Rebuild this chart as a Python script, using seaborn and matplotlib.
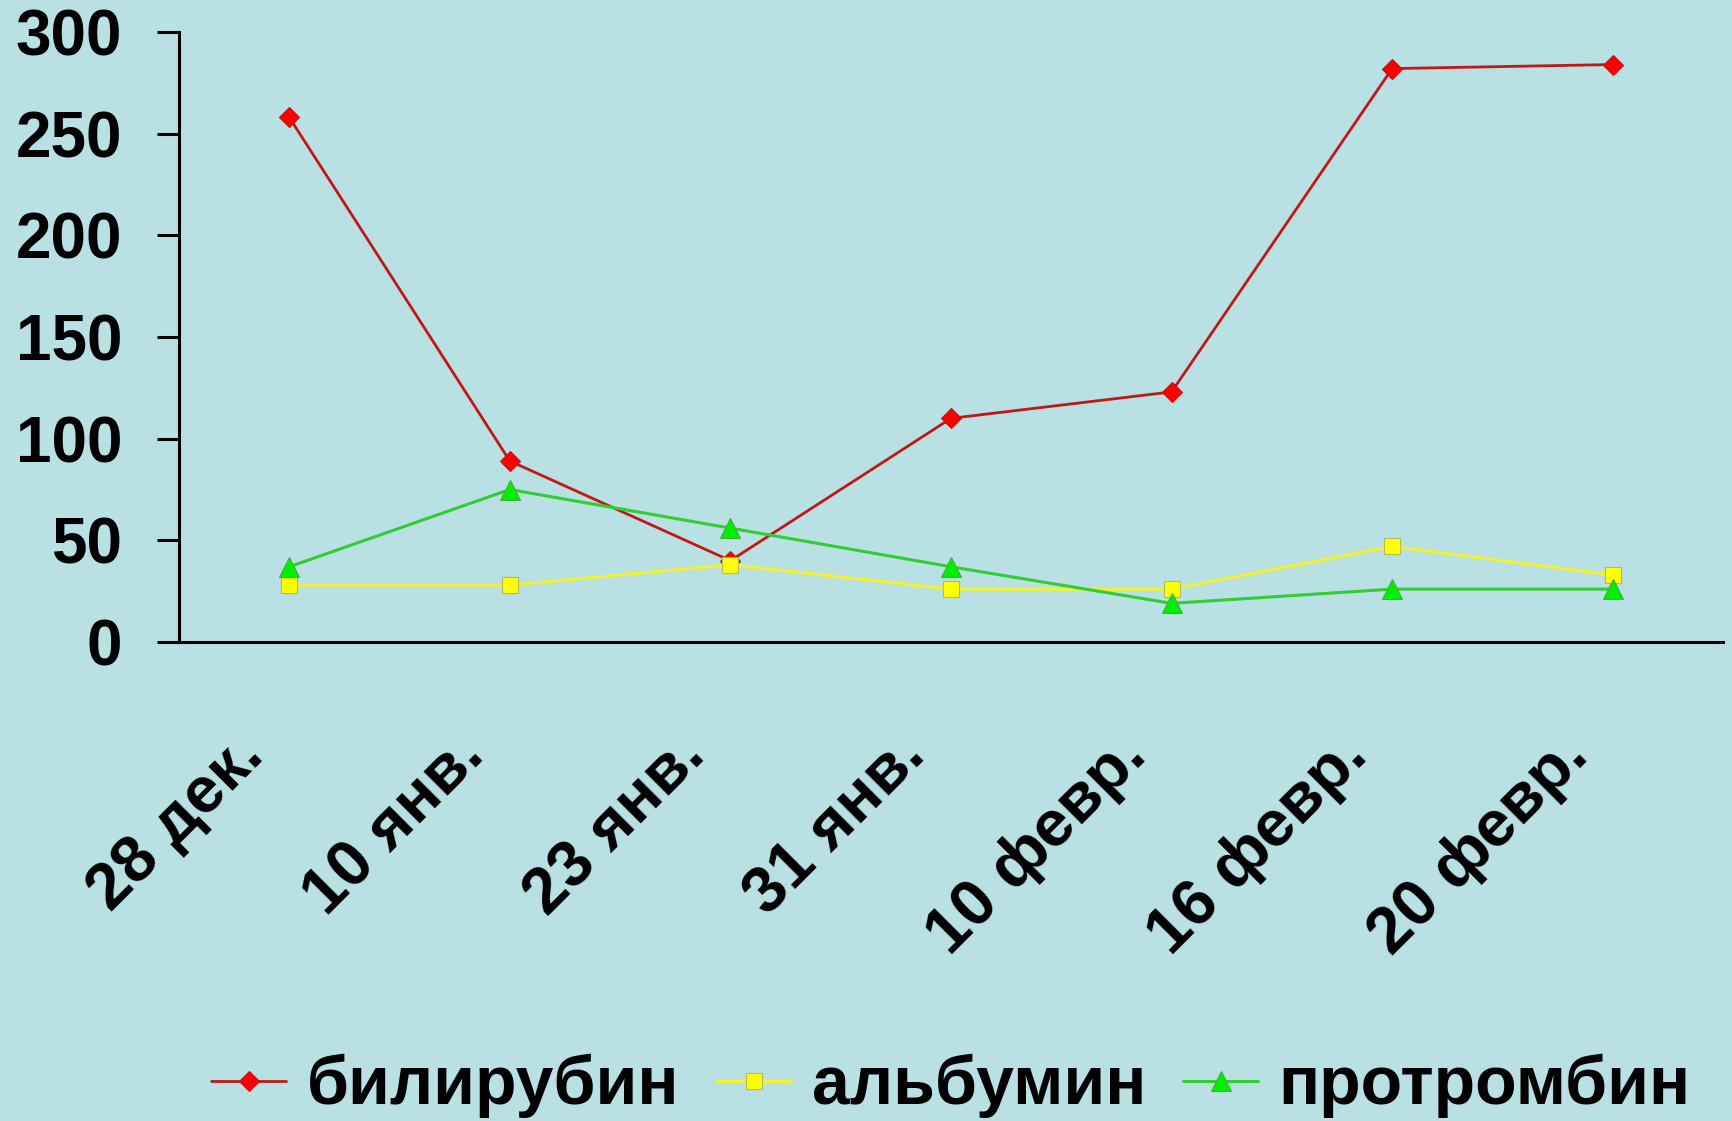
import matplotlib
matplotlib.use("Agg")
import matplotlib.pyplot as plt
from matplotlib.transforms import ScaledTranslation
import seaborn as sns
import pandas as pd

# Dates of the measurements
dates = ["28 дек.", "10 янв.", "23 янв.", "31 янв.", "10 февр.", "16 февр.", "20 февр."]

# Laboratory values per date
bilirubin = [258, 89, 40, 110, 123, 282, 284]
albumin = [28, 28, 38, 26, 26, 47, 33]
prothrombin = [37, 75, 56, 37, 19, 26, 26]

series_names = ["билирубин", "альбумин", "протромбин"]
y_ticks = [0, 50, 100, 150, 200, 250, 300]

BG = "#B9E0E3"

sns.set_theme(style="white")
plt.rcParams["font.family"] = ["Liberation Sans", "DejaVu Sans"]
plt.rcParams["font.weight"] = "bold"
plt.rcParams["text.color"] = "black"

fig = plt.figure(figsize=(17.32, 11.21), dpi=100, facecolor=BG)
ax = fig.add_axes([179 / 1732, 1 - 642 / 1121, (1723 - 179) / 1732, (642 - 32) / 1121])
ax.set_facecolor(BG)

styles = [
    dict(values=bilirubin, color="#C01818", marker="D", ms=10, mfc="#FF0000", mec="#CC1010", lw=2.0),
    dict(values=albumin, color="#F2F22E", marker="s", ms=12, mfc="#FFFF00", mec="#B8B860", lw=2.2),
    dict(values=prothrombin, color="#33CC33", marker="^", ms=14, mfc="#00EE00", mec="#40B040", lw=2.2),
]

for name, st in zip(series_names, styles):
    df = pd.DataFrame({"date": dates, "value": st["values"]})
    sns.lineplot(
        data=df, x="date", y="value", ax=ax, sort=False,
        color=st["color"], linewidth=st["lw"], marker=st["marker"],
        markersize=st["ms"], markerfacecolor=st["mfc"], markeredgecolor=st["mec"],
        markeredgewidth=0.8, label=name,
    )

ax.set_xlim(-0.5, len(dates) - 0.5)
ax.set_ylim(0, 300)
ax.set_xlabel("")
ax.set_ylabel("")

for side in ["top", "right"]:
    ax.spines[side].set_visible(False)
for side in ["left", "bottom"]:
    ax.spines[side].set_color("black")
    ax.spines[side].set_linewidth(2.2)

ax.set_yticks(y_ticks)
ax.set_yticklabels([str(v) for v in y_ticks], fontsize=46, fontweight="bold", color="black")
ax.tick_params(axis="y", direction="out", length=16, width=2.2, pad=25, colors="black", left=True)

ax.set_xticks(range(len(dates)))
ax.set_xticklabels(dates, fontsize=47, fontweight="bold", rotation=45, color="black",
                   ha="right", va="center", rotation_mode="anchor")
ax.tick_params(axis="x", length=0, pad=0, colors="black")
shift = ScaledTranslation(-0.35, -1.04, fig.dpi_scale_trans)
for lbl in ax.get_xticklabels():
    lbl.set_transform(lbl.get_transform() + shift)

handles, labels = ax.get_legend_handles_labels()
if ax.get_legend() is not None:
    ax.get_legend().remove()
leg = fig.legend(handles, labels, loc="center", bbox_to_anchor=(951 / 1732, 0.031), ncol=3,
                 frameon=False, handlelength=1.1, handletextpad=0.3, columnspacing=0.55,
                 prop={"family": "Liberation Sans", "weight": "bold", "size": 49})
for t in leg.get_texts():
    t.set_color("black")

fig.savefig("out.png", dpi=100, facecolor=BG)
